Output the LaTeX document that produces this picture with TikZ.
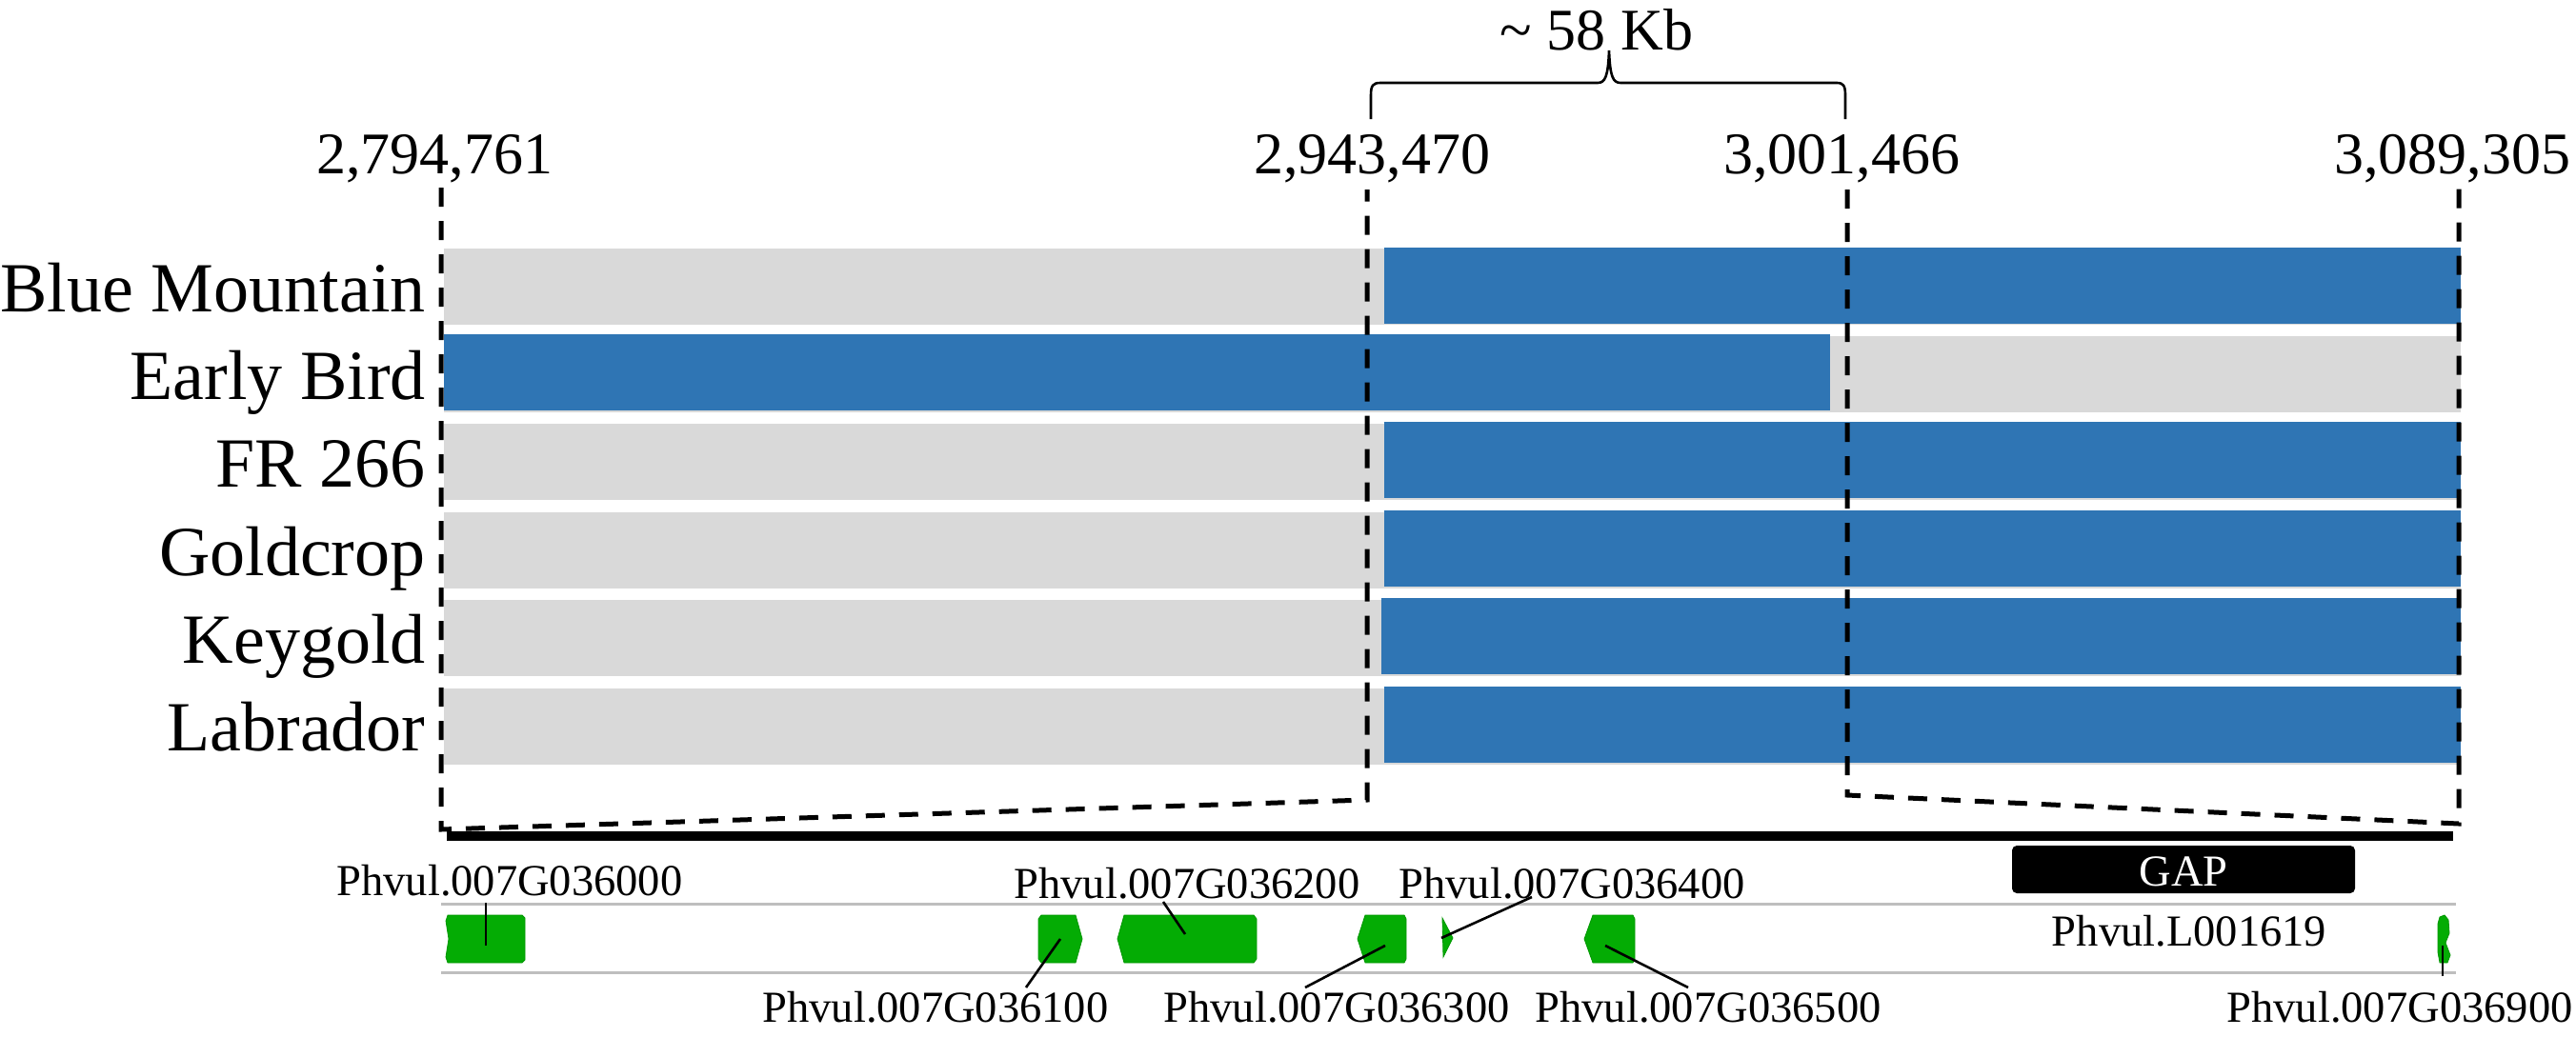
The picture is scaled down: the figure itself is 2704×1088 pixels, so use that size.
\documentclass[tikz,border=0pt]{standalone}
\usepackage{fontspec}
\setmainfont{Liberation Serif}
\definecolor{barblue}{RGB}{47,117,180}
\definecolor{bargray}{RGB}{217,217,217}
\definecolor{genegreen}{RGB}{4,172,4}
\definecolor{genedark}{RGB}{0,150,0}
\definecolor{trackgray}{RGB}{190,190,190}
\begin{document}
\begin{tikzpicture}[x=0.5pt,y=-0.5pt,
  lbl/.style={font=\fontsize{23.25}{26}\selectfont, inner sep=0pt, anchor=base},
  num/.style={font=\fontsize{31}{34}\selectfont, inner sep=0pt, anchor=base},
  rowname/.style={font=\fontsize{37}{40}\selectfont, inner sep=0pt, anchor=base east},
  gene/.style={fill=genegreen, draw=genedark, line width=0.4pt},
  leader/.style={line width=1.3pt},
  zoomline/.style={dash pattern=on 10pt off 7.5pt, line width=2.5pt},
  track/.style={draw=trackgray, line width=1.5pt}]
\useasboundingbox (0,0) rectangle (2704,1088);

% rows
\fill[bargray] (466,261) rectangle (2583,341);
\fill[barblue] (1453,260) rectangle (2583,340);
\fill[bargray] (466,353) rectangle (2583,433);
\fill[barblue] (466,351) rectangle (1921,431);
\fill[bargray] (466,445) rectangle (2583,525);
\fill[barblue] (1453,443) rectangle (2583,523);
\fill[bargray] (466,538) rectangle (2583,618);
\fill[barblue] (1453,536) rectangle (2583,616);
\fill[bargray] (466,630) rectangle (2583,710);
\fill[barblue] (1450,628) rectangle (2583,708);
\fill[bargray] (466,723) rectangle (2583,803);
\fill[barblue] (1453,721) rectangle (2583,801);

\node[rowname] (bm) at (447,327) {Blue Mountain};
\node[rowname] (eb) at (447,419) {Early Bird};
\node[rowname] (fr) at (447,511) {FR 266};
\node[rowname] (gc) at (447,604) {Goldcrop};
\node[rowname] (kg) at (447,696) {Keygold};
\node[rowname] (lb) at (447,788) {Labrador};

% coordinates
\node[num] (p1) at (456,182) {2,794,761};
\node[num] (p2) at (1440,182) {2,943,470};
\node[num] (p3) at (1933,182) {3,001,466};
\node[num] (p4) at (2574,182) {3,089,305};
\node[num] (kb) at (1676,52) {\textasciitilde\ 58 Kb};

% brace
\draw[line width=1.3pt] (1439,125) -- (1439,100) .. controls (1439,90) and (1441,87) .. (1449,87)
  -- (1677,87) .. controls (1685,87) and (1688,80) .. (1689,53)
  .. controls (1690,80) and (1693,87) .. (1701,87)
  -- (1928,87) .. controls (1935,87) and (1937,90) .. (1937,100) -- (1937,125);

% zoom dashed lines
\coordinate (d1t) at (463,197);
\coordinate (d1b) at (463,871);
\coordinate (d2b) at (1435,840);
\coordinate (d2t) at (1435,199);
\coordinate (d3t) at (1939,199);
\coordinate (d3b) at (1939,835);
\coordinate (d4b) at (2581,865);
\coordinate (d4t) at (2581,197);
\draw[zoomline] (d1t) -- (d1b) -- (d2b) -- (d2t);
\draw[zoomline] (d3t) -- (d3b) -- (d4b) -- (d4t);

% chromosome line
\fill[black] (469,873) rectangle (2575,883);

% gap
\node[fill=black, rounded corners=2.5pt, minimum width=180pt, minimum height=25pt, inner sep=0pt] (gapbox) at (2292,913) {};
\node[lbl, text=white] (gap) at (2292,930) {GAP};

% tracks
\draw[track] (463,949) -- (2578,949);
\draw[track] (463,1021) -- (2578,1021);

% genes
\draw[gene] (470,961) -- (548,961) -- (551,964) -- (551,1008) -- (548,1011) -- (470,1011) -- (468,1005) -- (471,986) -- (468,967) -- cycle;
\draw[gene] (1093,961) -- (1129,961) -- (1136,986) -- (1129,1011) -- (1093,1011) -- (1090,1007) -- (1090,965) -- cycle;
\draw[gene] (1180,961) -- (1316,961) -- (1319,965) -- (1319,1007) -- (1316,1011) -- (1180,1011) -- (1173,986) -- cycle;
\draw[gene] (1433,961) -- (1474,961) -- (1476,965) -- (1476,1007) -- (1474,1011) -- (1433,1011) -- (1425,986) -- cycle;
\draw[gene] (1514,964) -- (1525,985) -- (1515,1005) -- cycle;
\draw[gene] (1672,961) -- (1714,961) -- (1716,965) -- (1716,1007) -- (1714,1011) -- (1672,1011) -- (1663,986) -- cycle;
\draw[gene] (2561,963) -- (2566,961) -- (2570,966) -- (2571,980) -- (2567,990) -- (2572,1003) -- (2569,1011) -- (2561,1011) -- (2559,1000) -- (2559,970) -- cycle;

% labels
\node[lbl] (g0) at (535,940) {Phvul.007G036000};
\node[lbl] (g2) at (1246,943) {Phvul.007G036200};
\node[lbl] (g4) at (1650,943) {Phvul.007G036400};
\node[lbl] (g1) at (982,1073) {Phvul.007G036100};
\node[lbl] (g3) at (1403,1073) {Phvul.007G036300};
\node[lbl] (g5) at (1793,1073) {Phvul.007G036500};
\node[lbl] (g6) at (2519,1073) {Phvul.007G036900};
\node[lbl] (gl) at (2298,993) {Phvul.L001619};

% leader lines
\coordinate (a0) at (510,948);  \coordinate (b0) at (510,993);
\coordinate (a1) at (1077,1037); \coordinate (b1) at (1113,986);
\coordinate (a2) at (1221,947); \coordinate (b2) at (1244,981);
\coordinate (a3) at (1370,1037); \coordinate (b3) at (1454,993);
\coordinate (a4) at (1608,942); \coordinate (b4) at (1513,985);
\coordinate (a5) at (1772,1037); \coordinate (b5) at (1685,993);
\coordinate (a6) at (2564,1025); \coordinate (b6) at (2564,993);
\foreach \i in {0,...,6} {\draw[leader] (a\i) -- (b\i);}
\end{tikzpicture}
\end{document}
